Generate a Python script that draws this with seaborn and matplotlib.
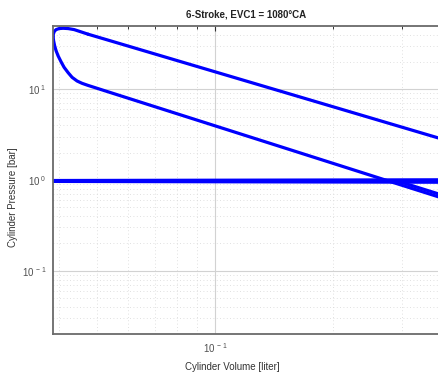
import numpy as np
import pandas as pd
import matplotlib
matplotlib.use("Agg")
import matplotlib.pyplot as plt
import matplotlib.ticker as mticker
import seaborn as sns

# ---- data (volume in liter, pressure in bar) ----
# compression stroke (right to TDC)
comp_V = [0.372, 0.279, 0.05324, 0.04735, 0.04571, 0.04439, 0.04311, 0.04211,
          0.04113, 0.04041, 0.0397, 0.03924, 0.0389, 0.03867, 0.03855]
comp_p = [0.65, 0.963, 9.36, 11.0, 11.6, 12.3, 13.5, 15.2,
          17.4, 20.0, 23.3, 26.5, 30.1, 34.1, 37.8]

# combustion near TDC (peak pressure)
comb_V = [0.03855, 0.03862, 0.03885, 0.03924, 0.03994, 0.04089, 0.04211,
          0.04362, 0.04518, 0.04735]
comb_p = [37.8, 40.7, 43.4, 45.3, 46.5, 46.85, 46.5, 45.3, 43.1, 40.3]

# expansion stroke
exp_V = [0.04735, 0.05324, 0.372]
exp_p = [40.3, 34.7, 2.89]

# exhaust / intake strokes near ambient pressure
exh_V = [0.372, 0.03855]
exh_p = [1.005, 0.987]

int_V = [0.03855, 0.372]
int_p = [0.965, 0.945]

# second expansion branch near BDC
exp2_V = [0.29, 0.372]
exp2_p = [0.98, 0.70]

x_lim = [0.0386, 0.372]
y_lim = [0.02, 50.0]

title = "6-Stroke, EVC1 = 1080°CA"
xlabel = "Cylinder Volume [liter]"
ylabel = "Cylinder Pressure [bar]"

segments = [(comp_V, comp_p), (comb_V, comb_p), (exp_V, exp_p),
            (exh_V, exh_p), (int_V, int_p), (exp2_V, exp2_p)]

# ---- style ----
sns.set_theme(style="white")
plt.rcParams["font.family"] = ["Liberation Sans", "DejaVu Sans"]
plt.rcParams["mathtext.fontset"] = "custom"
plt.rcParams["mathtext.rm"] = "Liberation Sans"
plt.rcParams["mathtext.it"] = "Liberation Sans"

W, H = 439, 373
fig = plt.figure(figsize=(W / 100, H / 100), dpi=100)
L, R, T, B = 53.3, 439.0, 25.7, 334.3
ax = fig.add_axes([L / W, 1 - B / H, (R - L) / W, (B - T) / H])

line_color = "#0000ff"
for v, p in segments:
    df = pd.DataFrame({"V": v, "p": p})
    sns.lineplot(data=df, x="V", y="p", sort=False, estimator=None,
                 color=line_color, lw=2.3, ax=ax, legend=False,
                 solid_joinstyle="round", solid_capstyle="round")

ax.set_xscale("log")
ax.set_yscale("log")
ax.set_xlim(*x_lim)
ax.set_ylim(*y_lim)

def fmt(v, pos):
    e = int(round(np.log10(v)))
    return r"$\mathregular{10^{\ %d}}$" % e

ax.xaxis.set_major_locator(mticker.LogLocator(base=10, numticks=10))
ax.yaxis.set_major_locator(mticker.LogLocator(base=10, numticks=10))
ax.xaxis.set_minor_locator(mticker.LogLocator(base=10, subs=np.arange(2, 10), numticks=20))
ax.yaxis.set_minor_locator(mticker.LogLocator(base=10, subs=np.arange(2, 10), numticks=20))
ax.xaxis.set_major_formatter(mticker.FuncFormatter(fmt))
ax.yaxis.set_major_formatter(mticker.FuncFormatter(fmt))
ax.xaxis.set_minor_formatter(mticker.NullFormatter())
ax.yaxis.set_minor_formatter(mticker.NullFormatter())

ax.grid(True, which="major", color="#d2d2d2", lw=0.8, ls="-")
ax.grid(True, which="minor", color="#d6d6d6", lw=0.6, ls=(0, (1, 3)))
ax.set_axisbelow(True)

spine_c = "#6a6a6a"
for s in ["left", "bottom", "top"]:
    ax.spines[s].set_color(spine_c)
    ax.spines[s].set_linewidth(1.3)
ax.spines["right"].set_visible(False)

ax.tick_params(which="both", direction="in", top=True, right=False,
               color="#333333", labelcolor="#505050", labelsize=7)
ax.tick_params(which="major", length=3.5, width=0.8, pad=5)
ax.tick_params(which="minor", length=2.2, width=0.7)

ax.set_title(title, fontsize=7, fontweight="bold", color="#222222", pad=6)
ax.set_xlabel(xlabel, fontsize=7, color="#333333")
ax.set_ylabel(ylabel, fontsize=7, color="#333333")
ax.xaxis.set_label_coords((232 - L) / (R - L), -(367 - B) / (B - T))
ax.yaxis.set_label_coords(-(L - 13.3) / (R - L), (B - 196.7) / (B - T))
ax.xaxis.label.set_verticalalignment("center")
ax.yaxis.label.set_verticalalignment("center")

fig.savefig("out.png", dpi=100)
